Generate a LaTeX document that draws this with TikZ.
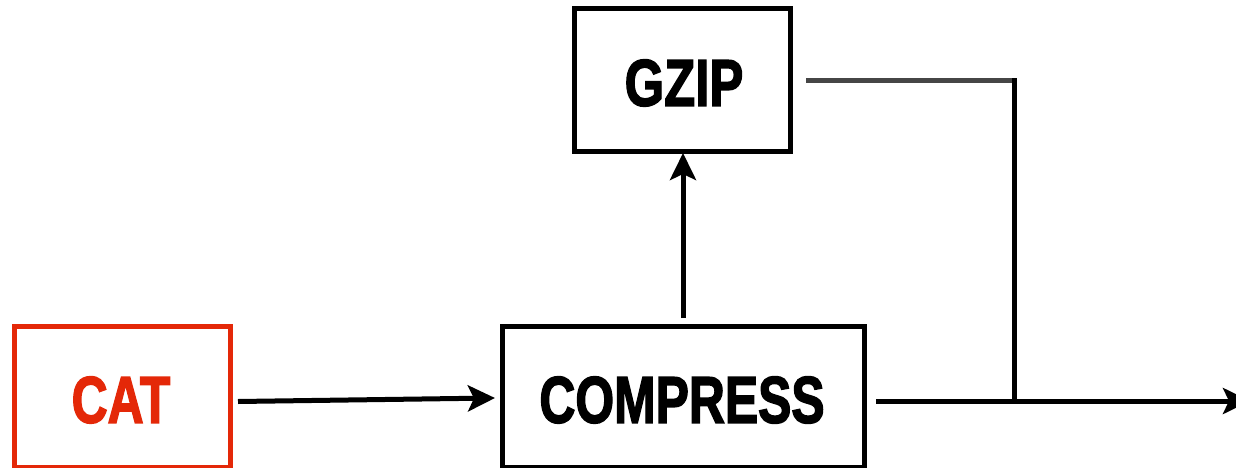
\documentclass[tikz,border=0pt]{standalone}
\usepackage{fontspec}
\setmainfont{Liberation Sans}
\newfontfamily\blockfont[FakeBold=2.5]{Liberation Sans Bold}
\usetikzlibrary{arrows.meta,calc}
\definecolor{catred}{RGB}{228,40,8}
\definecolor{feedgray}{RGB}{70,70,70}
\tikzset{
  blockbox/.style={draw, line width=5pt, inner sep=0pt, outer sep=0pt, fill=white},
  blocklabel/.style={font=\fontsize{66}{66}\blockfont, xscale=0.755, inner sep=0pt},
  flow/.style={line width=5pt, -{Stealth[length=27pt, width=26pt, inset=6pt]}},
  wire/.style={line width=5pt}
}
\begin{document}
\begin{tikzpicture}[x=1pt, y=-1pt]
  \useasboundingbox (0,0) rectangle (1236,468);

  % processing blocks
  \node[blockbox, draw=catred, minimum width=216pt, minimum height=140.5pt] (cat) at (122,396.75) {};
  \node[blockbox, minimum width=362pt, minimum height=140.5pt] (comp) at (683,396.75) {};
  \node[blockbox, minimum width=216pt, minimum height=142pt] (gzip) at (682,80) {};

  % block titles
  \node[blocklabel, text=catred] (catlbl) at (121,400) {CAT};
  \node[blocklabel] (complbl) at (682,400) {COMPRESS};
  \node[blocklabel, xscale=1.02] (gziplbl) at (684,83) {GZIP};

  % routing points
  \coordinate (joint) at (1014,401);
  \coordinate (corner) at (1014,81);
  \coordinate (exit) at (1250,401);

  % connectors
  \draw[flow] ($(cat.east)+(8,4.75)$) -- ($(comp.west)+(-7,1.25)$);
  \draw[flow] ($(comp.north)+(0,-8.5)$) -- ($(gzip.south)+(1,2)$);
  \draw[wire, feedgray] ($(gzip.east)+(16,1)$) -- ($(corner)+(2.5,0)$);
  \draw[wire] ($(corner)+(0,-2.5)$) -- (joint);
  \draw[flow] ($(comp.east)+(12,4.25)$) -- (exit);
\end{tikzpicture}
\end{document}
